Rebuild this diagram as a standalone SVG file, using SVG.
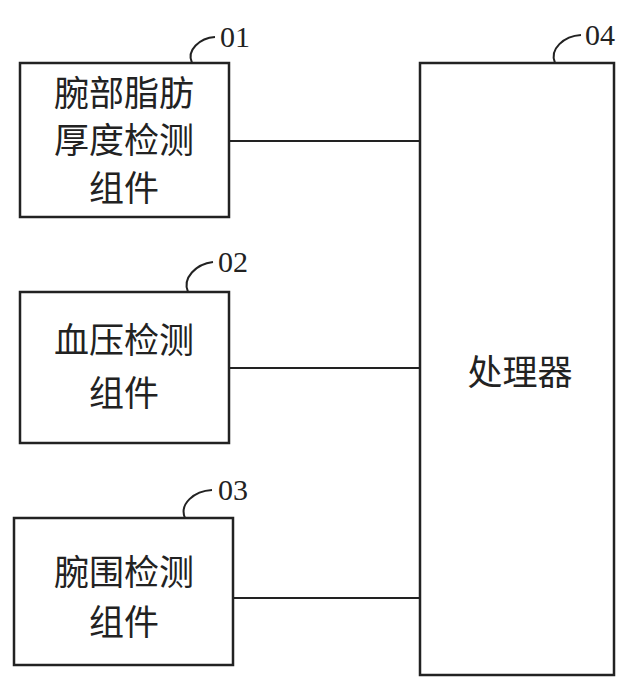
<svg xmlns="http://www.w3.org/2000/svg" width="642" height="696" viewBox="0 0 642 696">
<style>
.b{fill:#fff;stroke:#222;stroke-width:2.5}
.t{font-family:"Noto Sans CJK SC","Noto Sans",sans-serif;font-size:35px;fill:#222;text-anchor:middle}
.n{font-family:"Liberation Serif",serif;font-size:30px;fill:#222}
.l{fill:none;stroke:#222;stroke-width:2}
</style>
<rect width="642" height="696" fill="#fff"/>
<g id="connectors">
<line class="l" x1="229" y1="141" x2="420" y2="141"/>
<line class="l" x1="229" y1="368" x2="420" y2="368"/>
<line class="l" x1="233" y1="598" x2="420" y2="598"/>
</g>
<g id="n01">
<rect class="b" x="20" y="63" width="209" height="154"/>
<text class="t" x="124" y="106">腕部脂肪</text>
<text class="t" x="124" y="153">厚度检测</text>
<text class="t" x="124" y="201">组件</text>
<path class="l" d="M192,63 C186,50 200,38 215,37"/>
<text class="n" x="220" y="47">01</text>
</g>
<g id="n02">
<rect class="b" x="20" y="292" width="209" height="151"/>
<text class="t" x="124" y="353">血压检测</text>
<text class="t" x="124" y="406">组件</text>
<path class="l" d="M188,292 C182,278 196,264 213,262"/>
<text class="n" x="218" y="272">02</text>
</g>
<g id="n03">
<rect class="b" x="14" y="518" width="219" height="147"/>
<text class="t" x="124" y="585">腕围检测</text>
<text class="t" x="124" y="635">组件</text>
<path class="l" d="M185,518 C179,504 194,491 212,490"/>
<text class="n" x="218" y="500">03</text>
</g>
<g id="n04">
<rect class="b" x="420" y="63" width="194" height="612"/>
<text class="t" x="520" y="385">处理器</text>
<path class="l" d="M555,63 C549,49 564,36 581,35"/>
<text class="n" x="585" y="45">04</text>
</g>
</svg>
